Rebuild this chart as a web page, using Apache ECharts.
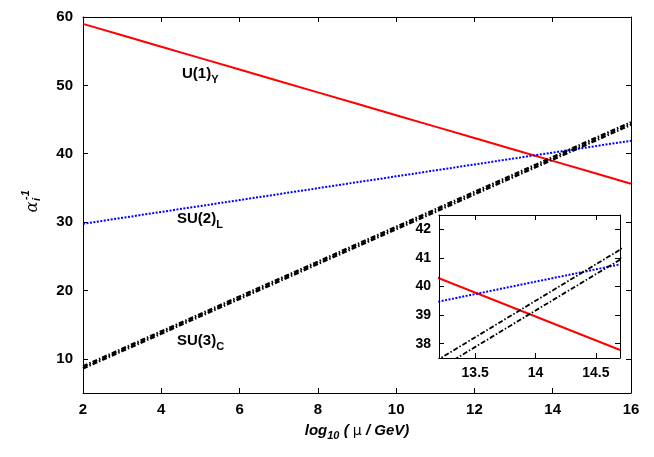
<!DOCTYPE html>
<html>
<head>
<meta charset="utf-8">
<script src="https://cdn.jsdelivr.net/npm/echarts@6/dist/echarts.min.js"></script>
<style>
html,body{margin:0;padding:0;background:#fff;}
#chart{width:654px;height:457px;}
</style>
</head>
<body>
<div id="chart"></div>
<script>
// log10(mu/GeV) sample points
const xs = [2, 3, 4, 5, 6, 7, 8, 9, 10, 11, 12, 13, 14, 15, 16];
// U(1)_Y inverse coupling
const u1 = [59.0, 57.33, 55.66, 53.99, 52.32, 50.65, 48.97, 47.30, 45.63, 43.96, 42.29, 40.62, 38.95, 37.28, 35.6];
// SU(2)_L inverse coupling
const su2 = [29.75, 30.62, 31.49, 32.35, 33.22, 34.09, 34.96, 35.83, 36.69, 37.56, 38.43, 39.30, 40.17, 41.03, 41.9];
// SU(3)_C inverse coupling (two curves)
const su3a = [8.9, 11.45, 14.0, 16.55, 19.1, 21.65, 24.2, 26.75, 29.3, 31.85, 34.4, 36.95, 39.5, 42.05, 44.6];
const su3b = [8.6, 11.15, 13.69, 16.24, 18.78, 21.33, 23.88, 26.42, 28.97, 31.51, 34.06, 36.61, 39.16, 41.70, 44.25];

const mainYTicks = [10, 20, 30, 40, 50, 60];
const insetXTicks = [13.5, 14, 14.5];
const insetYTicks = [38, 39, 40, 41, 42];

const FONT = 'Liberation Sans';
const pairs = arr => xs.map((x, i) => [x, arr[i]]);

const chart = echarts.init(document.getElementById('chart'), null, {renderer: 'canvas'});

const tickStyle = {show: true, inside: true, length: 5, lineStyle: {color: '#000', width: 1}};
const lineAx = {show: true, lineStyle: {color: '#000', width: 1}};
const lbl = {color: '#000', fontFamily: FONT, fontWeight: 'bold', fontSize: 15};
const lblIn = {color: '#000', fontFamily: FONT, fontWeight: 'bold', fontSize: 14};

const redStyle = {color: '#ff0000', width: 2, type: 'solid'};
const blueStyle = {color: '#0000ff', width: 2, type: [2, 1.5], cap: 'butt'};
const blackStyle = {color: '#000', width: 2, type: [5, 2, 1.5, 2], cap: 'butt'};

function mkSeries(xi, yi, w, z) {
  return [
    {type: 'line', xAxisIndex: xi, yAxisIndex: yi, data: pairs(u1), symbol: 'none', clip: true,
     lineStyle: Object.assign({}, redStyle), z: z},
    {type: 'line', xAxisIndex: xi, yAxisIndex: yi, data: pairs(su2), symbol: 'none', clip: true,
     lineStyle: Object.assign({}, blueStyle), z: z},
    {type: 'line', xAxisIndex: xi, yAxisIndex: yi, data: pairs(su3a), symbol: 'none', clip: true,
     lineStyle: Object.assign({}, blackStyle, {width: w}), z: z},
    {type: 'line', xAxisIndex: xi, yAxisIndex: yi, data: pairs(su3b), symbol: 'none', clip: true,
     lineStyle: Object.assign({}, blackStyle, {width: w}), z: z}
  ];
}

const subRich = {
  a: {fontFamily: FONT, fontWeight: 'bold', fontSize: 15, color: '#000', verticalAlign: 'bottom', padding: [0, 0, 4, 0]},
  s: {fontFamily: FONT, fontWeight: 'bold', fontSize: 11, color: '#000', verticalAlign: 'bottom'}
};

const option = {
  animation: false,
  backgroundColor: '#fff',
  grid: [
    {left: 83, top: 17, width: 548, height: 376, containLabel: false},
    {left: 439, top: 215, width: 181, height: 143, containLabel: false,
     show: true, backgroundColor: '#fff', borderWidth: 0, z: 5}
  ],
  xAxis: [
    {type: 'value', gridIndex: 0, position: 'bottom', min: 2, max: 16, interval: 2,
     axisLine: lineAx, axisTick: tickStyle, splitLine: {show: false},
     axisLabel: Object.assign({margin: 9}, lbl),
     name: '{i|log}{sub|10}{i| ( }{mu|μ}{i| / GeV)}', nameLocation: 'middle', nameGap: 30,
     nameTextStyle: {rich: {
       i: {fontFamily: FONT, fontWeight: 'bold', fontStyle: 'italic', fontSize: 15, color: '#000', verticalAlign: 'bottom', padding: [0, 0, 3, 0]},
       sub: {fontFamily: FONT, fontWeight: 'bold', fontStyle: 'italic', fontSize: 11, color: '#000', verticalAlign: 'bottom'},
       mu: {fontFamily: 'DejaVu Sans', fontSize: 14, color: '#000', verticalAlign: 'bottom', padding: [0, 0, 3, 0]}
     }}},
    {type: 'value', gridIndex: 0, position: 'top', min: 2, max: 16, interval: 2,
     axisLine: lineAx, axisTick: tickStyle, axisLabel: {show: false}, splitLine: {show: false}},
    {type: 'value', gridIndex: 1, position: 'bottom', min: 13.2, max: 14.7,
     axisLine: lineAx, axisTick: Object.assign({customValues: insetXTicks}, tickStyle), splitLine: {show: false},
     axisLabel: Object.assign({margin: 8, customValues: insetXTicks}, lblIn), z: 12},
    {type: 'value', gridIndex: 1, position: 'top', min: 13.2, max: 14.7,
     axisLine: lineAx, axisTick: Object.assign({customValues: insetXTicks}, tickStyle), splitLine: {show: false},
     axisLabel: {show: false}, z: 12}
  ],
  yAxis: [
    {type: 'value', gridIndex: 0, position: 'left', min: 5, max: 60,
     axisLine: lineAx, axisTick: Object.assign({customValues: mainYTicks}, tickStyle), splitLine: {show: false},
     axisLabel: Object.assign({margin: 10, customValues: mainYTicks}, lbl)},
    {type: 'value', gridIndex: 0, position: 'right', min: 5, max: 60,
     axisLine: lineAx, axisTick: Object.assign({customValues: mainYTicks}, tickStyle), splitLine: {show: false},
     axisLabel: {show: false}},
    {type: 'value', gridIndex: 1, position: 'left', min: 37.5, max: 42.5,
     axisLine: lineAx, axisTick: Object.assign({customValues: insetYTicks}, tickStyle), splitLine: {show: false},
     axisLabel: Object.assign({margin: 8, customValues: insetYTicks}, lblIn), z: 12},
    {type: 'value', gridIndex: 1, position: 'right', min: 37.5, max: 42.5,
     axisLine: lineAx, axisTick: Object.assign({customValues: insetYTicks}, tickStyle), splitLine: {show: false},
     axisLabel: {show: false}, z: 12}
  ],
  series: [].concat(mkSeries(0, 0, 2.5, 3), mkSeries(2, 2, 1.8, 10)),
  graphic: [
    {type: 'text', left: 182, top: 66, z: 10,
     style: {text: '{a|U(1)}{s|Y}', rich: subRich}},
    {type: 'text', left: 177, top: 211, z: 10,
     style: {text: '{a|SU(2)}{s|L}', rich: subRich}},
    {type: 'text', left: 177, top: 333, z: 10,
     style: {text: '{a|SU(3)}{s|C}', rich: subRich}},
    {type: 'group', x: 33, y: 207, rotation: Math.PI / 2, z: 10, children: [
      {type: 'text', x: 0, y: 0, style: {text: 'α', fontFamily: 'DejaVu Serif', fontStyle: 'italic', fontSize: 16, fill: '#000', align: 'center', verticalAlign: 'middle'}},
      {type: 'text', x: 6, y: 4, style: {text: 'i', fontFamily: FONT, fontStyle: 'italic', fontWeight: 'bold', fontSize: 11, fill: '#000', align: 'left', verticalAlign: 'middle'}},
      {type: 'text', x: 7, y: -7, style: {text: '-1', fontFamily: FONT, fontStyle: 'italic', fontWeight: 'bold', fontSize: 11, fill: '#000', align: 'left', verticalAlign: 'middle'}}
    ]}
  ]
};
chart.setOption(option);
</script>
</body>
</html>
